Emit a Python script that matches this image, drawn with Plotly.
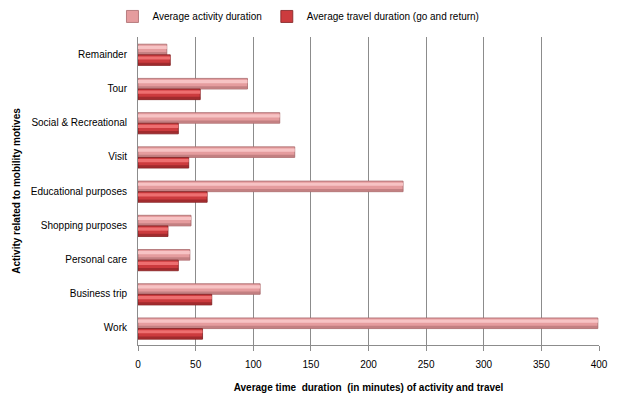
import plotly.graph_objects as go

categories = ["Work", "Business trip", "Personal care", "Shopping purposes",
              "Educational purposes", "Visit", "Social & Recreational", "Tour", "Remainder"]
activity = [399, 106, 45, 46, 230, 136, 123, 95, 25]
travel = [56, 64, 35, 26, 60, 44, 35, 54, 28]

series_names = ["Average activity duration", "Average travel duration (go and return)"]
xticks = [0, 50, 100, 150, 200, 250, 300, 350, 400]

FONT = "Liberation Sans"
W = 0.31

fig = go.Figure()

def add_series(vals, name, offset, base, light, dark):
    fig.add_trace(go.Bar(
        y=categories, x=vals, orientation="h", name=name,
        offset=offset, width=W,
        marker=dict(color=base, line=dict(color=dark, width=0.8)),
        showlegend=True, hoverinfo="x+y"))
    # highlight stripe (upper part of the bar)
    fig.add_trace(go.Bar(
        y=categories, x=vals, orientation="h", name=name,
        offset=offset + W * 0.55, width=W * 0.3,
        marker=dict(color=light, line=dict(width=0)),
        showlegend=False, hoverinfo="skip"))
    # shading (lower part of the bar)
    fig.add_trace(go.Bar(
        y=categories, x=vals, orientation="h", name=name,
        offset=offset + W * 0.04, width=W * 0.22,
        marker=dict(color=dark, opacity=0.55, line=dict(width=0)),
        showlegend=False, hoverinfo="skip"))

add_series(activity, series_names[0], -0.02, "#e59c9e", "#f7c3c4", "#a86a6c")
add_series(travel, series_names[1], -0.02 - W, "#cc3b3e", "#ee6f70", "#7e1f21")

fig.update_layout(
    width=618, height=393,
    margin=dict(l=138, r=19, t=37, b=48, autoexpand=False),
    paper_bgcolor="white", plot_bgcolor="white",
    barmode="overlay",
    font=dict(family=FONT, size=10, color="#000000"),
    legend=dict(orientation="h", xref="container", yref="container",
                x=0.182, y=0.995, xanchor="left", yanchor="top",
                font=dict(family=FONT, size=10),
                traceorder="normal"),
    xaxis=dict(range=[0, 400], tickvals=xticks, ticktext=[str(v) for v in xticks],
               automargin=False,
               showgrid=True, gridcolor="#8c8c8c", gridwidth=1,
               showline=True, linecolor="#8c8c8c", linewidth=1,
               ticks="outside", ticklen=5, tickcolor="#8c8c8c",
               ticklabelstandoff=5,
               zeroline=False,
               title=dict(text="<b>Average time  duration  (in minutes) of activity and travel</b>",
                          font=dict(family=FONT, size=10), standoff=14),
               tickfont=dict(family=FONT, size=10)),
    yaxis=dict(type="category", categoryorder="array", categoryarray=categories,
               range=[-0.5, 8.5], automargin=False,
               showline=True, linecolor="#8c8c8c", linewidth=1,
               showgrid=False, ticks="", ticklabelstandoff=8,
               title=dict(text="<b>Activity related to mobility motives</b>",
                          font=dict(family=FONT, size=10), standoff=8),
               tickfont=dict(family=FONT, size=10)),
)

fig.write_html("out.html")
